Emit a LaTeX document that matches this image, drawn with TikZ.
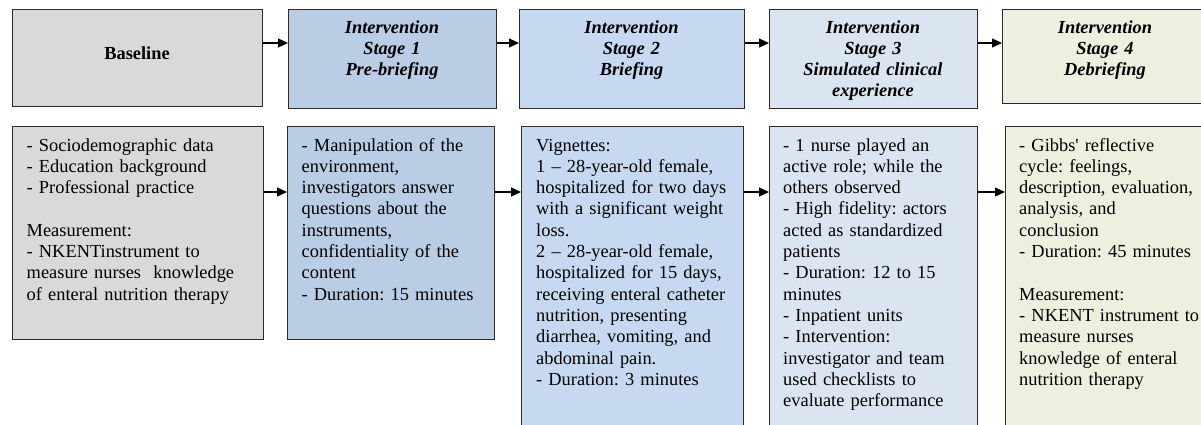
\documentclass[tikz,border=0pt]{standalone}
\usepackage{fontspec}
\setmainfont{Liberation Serif}[Ligatures=TeXOff]
\usetikzlibrary{arrows.meta}
\definecolor{cgray}{HTML}{D9D9D9}
\definecolor{cone}{HTML}{B9CDE5}
\definecolor{ctwo}{HTML}{C6D9F1}
\definecolor{cthree}{HTML}{DBE5F1}
\definecolor{cfour}{HTML}{EBF1DE}
\definecolor{cline}{HTML}{2B2B2B}
\frenchspacing
\begin{document}
\begin{tikzpicture}[x=1pt,y=-1pt,
  box/.style={draw=cline, line width=1.2pt, inner sep=0pt, anchor=north west},
  title/.style={anchor=base, inner sep=0pt, align=center, text width=190pt,
    font=\fontsize{18.4}{21.3}\selectfont\bfseries\itshape},
  body/.style={anchor=base west, inner sep=0pt, align=left,
    font=\fontsize{18.4}{21.3}\selectfont},
  arr/.style={draw=black, line width=1.2pt, -{Triangle[length=10pt,width=9pt]}}]
\useasboundingbox (0,0) rectangle (1201,424);
% top row
\node[box, fill=cgray,  minimum width=250.5pt, minimum height=96.5pt] (t0) at (11.5,9) {};
\node[box, fill=cone,   minimum width=208pt,   minimum height=99pt]   (t1) at (288,8.5) {};
\node[box, fill=ctwo,   minimum width=225pt,   minimum height=98.5pt] (t2) at (519,9) {};
\node[box, fill=cthree, minimum width=208pt,   minimum height=98.5pt] (t3) at (769,9) {};
\node[box, fill=cfour,  minimum width=215pt,   minimum height=94.5pt] (t4) at (1002,8.5) {};
% bottom row
\node[box, fill=cgray,  minimum width=251pt, minimum height=213pt] (b0) at (12,126) {};
\node[box, fill=cone,   minimum width=207pt, minimum height=213pt] (b1) at (287,126) {};
\node[box, fill=ctwo,   minimum width=222pt, minimum height=320pt] (b2) at (521,126) {};
\node[box, fill=cthree, minimum width=208pt, minimum height=320pt] (b3) at (769,126) {};
\node[box, fill=cfour,  minimum width=215pt, minimum height=320pt] (b4) at (1005,126) {};
% titles
\node[title, font=\fontsize{18.4}{21.3}\selectfont\bfseries] (h0) at (137,59) {Baseline};
\node[title] (h1) at (392,33) {Intervention\\Stage 1\\Pre-briefing};
\node[title] (h2) at (631.5,33) {Intervention\\Stage 2\\Briefing};
\node[title] (h3) at (873,33) {Intervention\\Stage 3\\Simulated clinical\\experience};
\node[title] (h4) at (1105,33) {Intervention\\Stage 4\\Debriefing};
% body texts
\node[body, text width=232pt] (x0) at (26.5,151) {- Sociodemographic data\\- Education background\\- Professional practice\\[21.3pt]Measurement:\\- NKENTinstrument to\\measure nurses\ \ knowledge\\of enteral nutrition therapy};
\node[body, text width=190pt] (x1) at (301.5,151) {- Manipulation of the\\environment,\\investigators answer\\questions about the\\instruments,\\confidentiality of the\\content\\- Duration: 15 minutes};
\node[body, text width=205pt] (x2) at (536,151) {Vignettes:\\1 – 28-year-old female,\\hospitalized for two days\\with a significant weight\\loss.\\2 – 28-year-old female,\\hospitalized for 15 days,\\receiving enteral catheter\\nutrition, presenting\\diarrhea, vomiting, and\\abdominal pain.\\- Duration: 3 minutes};
\node[body, text width=190pt] (x3) at (783,151) {- 1 nurse played an\\active role; while the\\others observed\\- High fidelity: actors\\acted as standardized\\patients\\- Duration: 12 to 15\\minutes\\- Inpatient units\\- Intervention:\\investigator and team\\used checklists to\\evaluate performance};
\node[body, text width=185pt] (x4) at (1019,151) {- Gibbs' reflective\\cycle: feelings,\\description, evaluation,\\analysis, and\\conclusion\\- Duration: 45 minutes\\[21.3pt]Measurement:\\- NKENT instrument to\\measure nurses\\knowledge of enteral\\nutrition therapy};
% arrows
\coordinate (ya) at (0,43);
\coordinate (yb) at (0,192);
\draw[arr] (t0.east |- ya) -- (t1.west |- ya);
\draw[arr] (t1.east |- ya) -- (t2.west |- ya);
\draw[arr] (t2.east |- ya) -- (t3.west |- ya);
\draw[arr] (t3.east |- ya) -- (t4.west |- ya);
\draw[arr] (b0.east |- yb) -- (b1.west |- yb);
\draw[arr] (b1.east |- yb) -- (b2.west |- yb);
\draw[arr] (b2.east |- yb) -- (b3.west |- yb);
\draw[arr] (b3.east |- yb) -- (b4.west |- yb);
\end{tikzpicture}
\end{document}
